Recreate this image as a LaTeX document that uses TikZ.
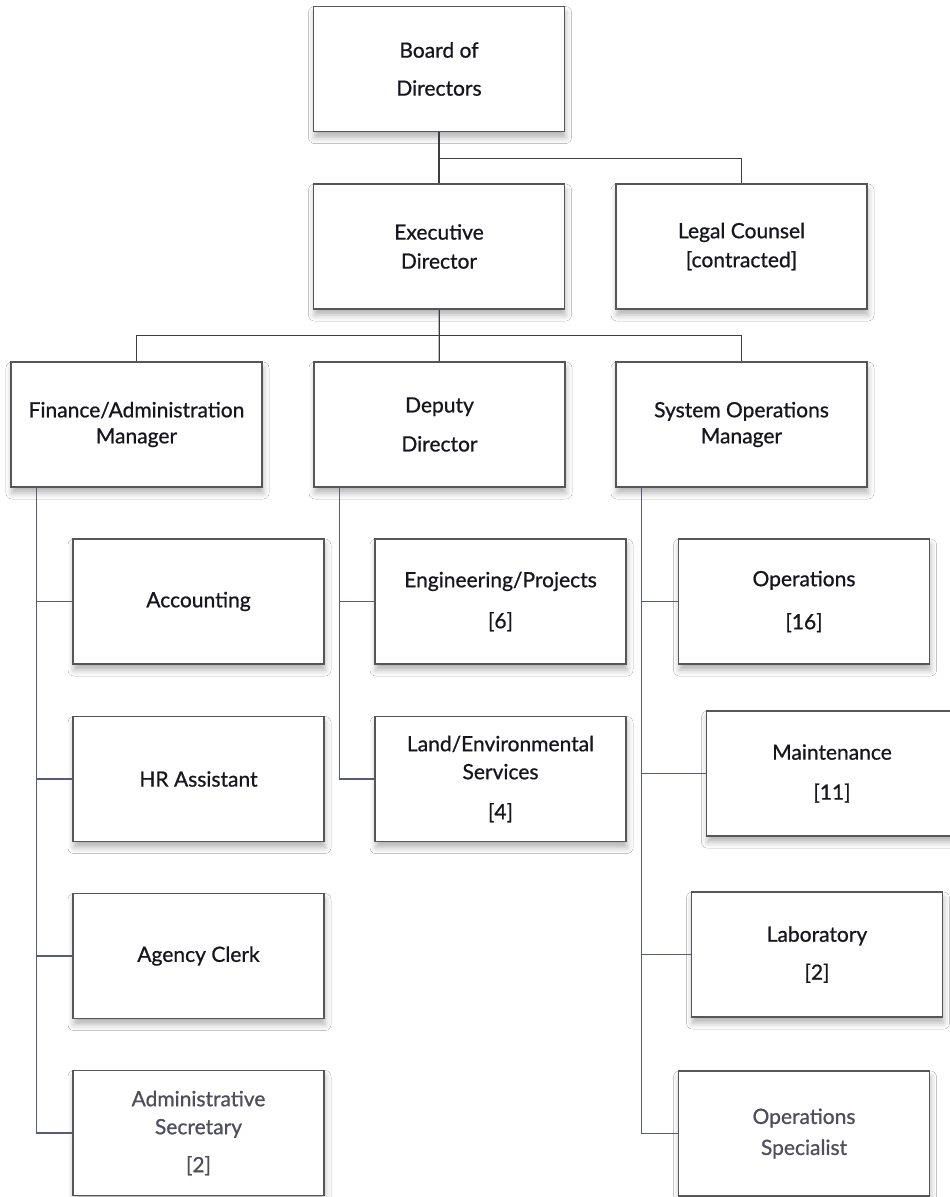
\documentclass[tikz,border=0pt]{standalone}
\usepackage{fontspec}
\setmainfont{Lato}[FakeBold=0.8]
\usetikzlibrary{shadows.blur}
\definecolor{boxline}{HTML}{56565A}
\definecolor{linkline}{HTML}{3C3C44}
\definecolor{trunkline}{HTML}{5A5A7A}
\definecolor{labeltext}{HTML}{16161F}
\definecolor{staffgray}{HTML}{4E4E5C}
\tikzset{
  unit/.style={draw=boxline, line width=1.5pt, fill=white,
    minimum width=251pt, minimum height=125pt, inner sep=0pt, align=center,
    font=\fontsize{21}{26}\selectfont, text=labeltext,
    blur shadow={shadow xshift=1pt, shadow yshift=-6pt, shadow blur radius=6pt, shadow opacity=30}},
  staff/.style={text=staffgray},
  link/.style={draw=linkline, line width=1.2pt},
  trunk/.style={draw=trunkline, line width=1.1pt},
}
\begin{document}
\begin{tikzpicture}[x=1pt, y=-1pt]
  \fill[white] (0,0) rectangle (950,1197);
  \useasboundingbox (0,0) rectangle (950,1197);
  % top of the chart
  \node[unit] (board) at (439,69) {Board of\\[12pt]Directors};
  \node[unit] (exec) at (439,246.5) {Executive\\[3pt]Director};
  \node[unit] (legal) at (741.5,246.5) {Legal Counsel\\[3pt][contracted]};
  % managers
  \node[unit] (fin) at (136.5,424.5) {Finance/Administration\\Manager};
  \node[unit] (dep) at (439.5,424.5) {Deputy\\[13pt]Director};
  \node[unit] (sysops) at (741.5,424.5) {System Operations\\Manager};
  % finance staff
  \node[unit] (acc) at (198.5,601.5) {Accounting};
  \node[unit] (hr) at (198.5,779) {HR Assistant};
  \node[unit] (clerk) at (198.5,956) {Agency Clerk};
  \node[unit, staff] (adsec) at (198.5,1133) {Administrative\\[2pt]Secretary\\[12pt][2]};
  % deputy staff
  \node[unit] (eng) at (500.5,601.5) {Engineering/Projects\\[15pt][6]};
  \node[unit] (land) at (500.5,779) {Land/Environmental\\[2pt]Services\\[14pt][4]};
  % operations staff
  \node[unit] (ops) at (804,601.5) {Operations\\[17pt][16]};
  \node[unit] (maint) at (832,773.5) {Maintenance\\[14pt][11]};
  \node[unit] (lab) at (817,954.5) {Laboratory\\[12pt][2]};
  \node[unit, staff] (opsspec) at (804,1133.5) {Operations\\[5pt]Specialist};

  \draw[link] (board) -- (exec);
  \draw[link] (board.south) ++(0,26) -| (legal.north);
  \draw[link] (exec) -- (dep);
  \draw[link] (exec.south) ++(0,26) coordinate (midbus) -| (fin.north)
    (midbus) -| (sysops.north);
  % trunks down the columns
  \draw[trunk] (fin.south west) ++(26.5,0) coordinate (finT) |- (adsec.west);
  \foreach \n in {acc,hr,clerk}
    \draw[trunk] (\n.west) -- (\n.west -| finT);
  \draw[trunk] (dep.south west) ++(26,0) coordinate (depT) |- (land.west);
  \draw[trunk] (eng.west) -- (eng.west -| depT);
  \draw[trunk] (sysops.south west) ++(26,0) coordinate (sysT) |- (opsspec.west);
  \foreach \n in {ops,maint,lab}
    \draw[trunk] (\n.west) -- (\n.west -| sysT);
\end{tikzpicture}
\end{document}
